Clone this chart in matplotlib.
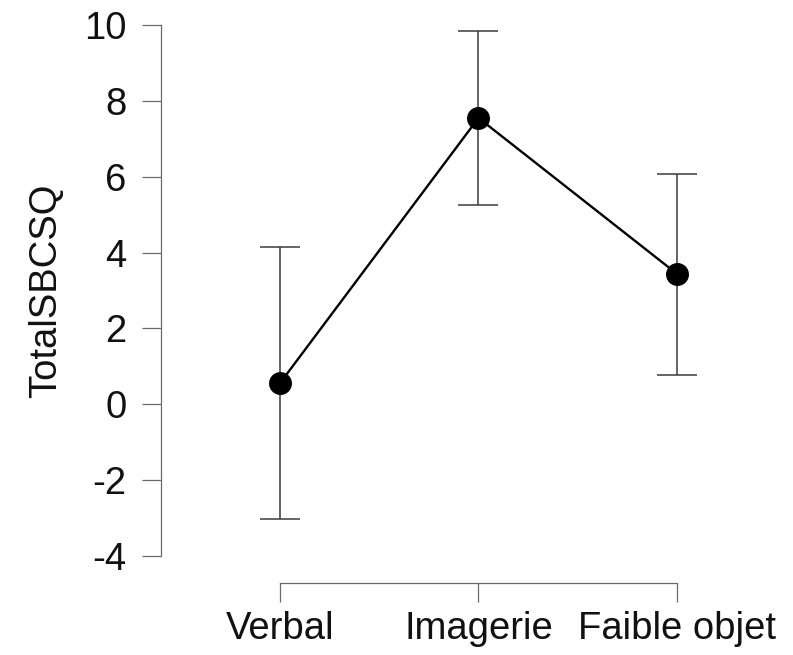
import matplotlib
matplotlib.use('Agg')
import matplotlib.pyplot as plt

conditions = ['Verbal', 'Imagerie', 'Faible objet']
means = [0.56, 7.55, 3.44]
ci_low = [-3.02, 5.25, 0.77]
ci_high = [4.15, 9.84, 6.07]
y_ticks = [-4, -2, 0, 2, 4, 6, 8, 10]

plt.rcParams['font.family'] = ['Liberation Sans', 'DejaVu Sans']

W, H = 793, 655
fig = plt.figure(figsize=(W / 100, H / 100), dpi=100)
# axes box: left spine at x=161, y from 25 (10) to 556 (-4)
ax = fig.add_axes([161 / W, (H - 556) / H, (W - 161) / W, 531 / H])

x = list(range(len(conditions)))
err_lo = [m - l for m, l in zip(means, ci_low)]
err_hi = [h - m for m, h in zip(means, ci_high)]

ax.errorbar(x, means, yerr=[err_lo, err_hi], fmt='none', ecolor='#3a3a3a',
            elinewidth=1.1, capsize=14.5, capthick=1.1, zorder=2)
ax.plot(x, means, color='black', lw=1.7, zorder=3)
ax.plot(x, means, 'o', color='black', ms=15.5, zorder=4)

ax.set_xlim(-0.6, 2.585)
ax.set_ylim(-4, 10)
ax.set_xticks(x)
ax.set_xticklabels(conditions)
ax.set_yticks(y_ticks)
ax.set_yticklabels([str(t) for t in y_ticks])

for s in ['top', 'right']:
    ax.spines[s].set_visible(False)
ax.spines['left'].set_bounds(-4, 10)
ax.spines['bottom'].set_bounds(0, 2)
ax.spines['bottom'].set_position(('outward', 19.5))
for s in ['left', 'bottom']:
    ax.spines[s].set_color('#6a6a6a')
    ax.spines[s].set_linewidth(0.9)

ax.tick_params(axis='both', length=14, width=0.9, color='#6a6a6a',
               labelsize=27.5, labelcolor='#111111')
ax.tick_params(axis='y', pad=11)
ax.tick_params(axis='x', pad=6)
ax.set_ylabel('TotalSBCSQ', fontsize=27.5, color='#111111', labelpad=14)

fig.savefig('out.png', dpi=100)
